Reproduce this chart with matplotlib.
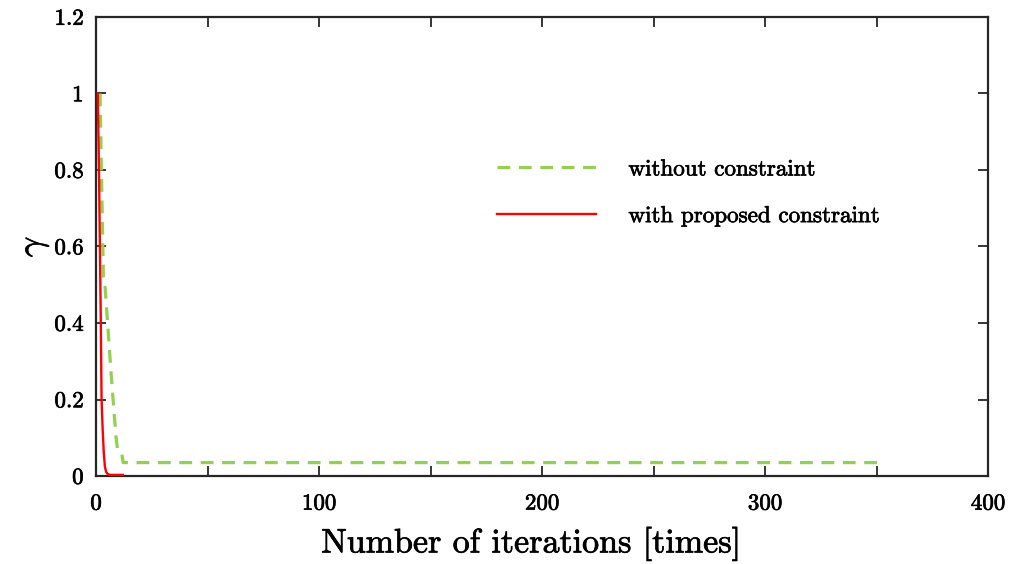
import matplotlib
matplotlib.use("Agg")
import matplotlib.pyplot as plt
import matplotlib.patheffects as pe
from matplotlib.ticker import FuncFormatter, MultipleLocator

# data
green_x = [1.8, 3.3, 4.0, 7.0, 9.0, 9.7, 11.5, 12.2, 352]
green_y = [1.0, 0.52, 0.50, 0.25, 0.10, 0.068, 0.06, 0.035, 0.035]
red_x = [0.8, 1.4, 2.1, 2.5, 3.0, 3.5, 4.0, 4.6, 5.3, 6.3, 12]
red_y = [1.0, 0.77, 0.43, 0.20, 0.12, 0.06, 0.024, 0.01, 0.005, 0.003, 0.003]
labels = ["without constraint", "with proposed constraint"]

plt.rcParams['font.family'] = ['cmr10', 'DejaVu Serif']
plt.rcParams['mathtext.fontset'] = 'cm'
plt.rcParams['axes.unicode_minus'] = False

fig = plt.figure(figsize=(10.17, 5.64), dpi=100)
ax = fig.add_axes([96/1017, 88/564, 892/1017, 459/564])

ax.plot(green_x, green_y, color='#92d050', lw=2.3, dashes=(4, 2.7),
        label=labels[0], zorder=3, clip_on=False)
ax.plot(red_x, red_y, color='#ff0000', lw=1.7, label=labels[1],
        zorder=4, clip_on=False)

ax.set_xlim(0, 400)
ax.set_ylim(0, 1.2)
ax.xaxis.set_major_locator(MultipleLocator(50))
ax.yaxis.set_major_locator(MultipleLocator(0.2))
ax.xaxis.set_major_formatter(FuncFormatter(lambda v, p: ('%d' % v) if abs(v % 100) < 1e-6 else ''))
ax.yaxis.set_major_formatter(FuncFormatter(lambda v, p: '%g' % round(v, 2)))
ax.tick_params(direction='in', top=True, right=True, length=7, width=1.3,
               labelsize=16.5, color='#262626')
ax.tick_params(axis='x', pad=13)
ax.tick_params(axis='y', pad=9)
for s in ax.spines.values():
    s.set_linewidth(1.6)
    s.set_color('#262626')
    s.set_zorder(2)

stroke = [pe.withStroke(linewidth=0.5, foreground='black')]
ax.set_xlabel('Number of iterations [times]', fontsize=24.5, labelpad=10)
ax.xaxis.label.set_x(0.488)
ax.set_ylabel(r'$\gamma$', fontsize=26, rotation=90, labelpad=2)

leg = ax.legend(loc='upper left', bbox_to_anchor=(0.4496, 0.69), frameon=False,
                fontsize=16.6, handlelength=4.3, handletextpad=1.4, labelspacing=1.15,
                borderpad=0, borderaxespad=0)

for t in (ax.get_xticklabels() + ax.get_yticklabels() + leg.get_texts()
          + [ax.xaxis.label, ax.yaxis.label]):
    t.set_path_effects(stroke)

fig.savefig('out.png', dpi=100)
